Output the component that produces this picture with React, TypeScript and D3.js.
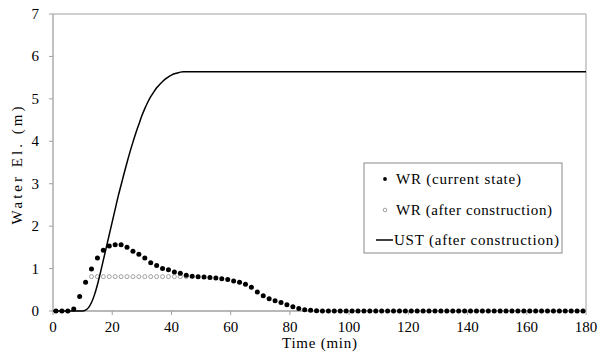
import React from "react";
import * as d3 from "d3";

const wrTimes = [1,3,5,7,9,11,13,15,17,19,21,23,25,27,29,31,33,35,37,39,41,43,45,47,49,51,53,55,57,59,61,63,65,67,69,71,73,75,77,79,81,83,85,87,89,91,93,95,97,99,101,103,105,107,109,111,113,115,117,119,121,123,125,127,129,131,133,135,137,139,141,143,145,147,149,151,153,155,157,159,161,163,165,167,169,171,173,175,177,179];
const wrCurrent = [0,0,0,0.05,0.34,0.68,0.99,1.25,1.43,1.53,1.56,1.56,1.50,1.41,1.34,1.25,1.14,1.07,1.00,0.97,0.92,0.89,0.84,0.82,0.81,0.80,0.79,0.78,0.76,0.74,0.71,0.68,0.63,0.56,0.45,0.36,0.29,0.24,0.20,0.15,0.10,0.06,0.03,0.015,0.005,0,0,0,0,0,0,0,0,0,0,0,0,0,0,0,0,0,0,0,0,0,0,0,0,0,0,0,0,0,0,0,0,0,0,0,0,0,0,0,0,0,0,0,0,0];
const wrAfterTimes = [13,15,17,19,21,23,25,27,29,31,33,35,37,39,41,43,45];
const wrAfter = [0.81,0.81,0.81,0.81,0.81,0.81,0.81,0.81,0.81,0.81,0.81,0.81,0.81,0.81,0.81,0.81,0.81];
const ustTimes = [0,10,11,12,13,14,15,16,17,18,19,20,21,22,23,24,25,26,27,28,29,30,31,32,33,34,35,36,37,38,39,40,41,42,43,44,45,180];
const ust = [0,0,0.02,0.08,0.2,0.38,0.62,0.9,1.2,1.5,1.8,2.1,2.4,2.7,2.97,3.24,3.5,3.75,3.98,4.2,4.4,4.6,4.77,4.92,5.05,5.16,5.26,5.34,5.41,5.47,5.52,5.56,5.59,5.61,5.63,5.64,5.64,5.64];
const xTicks = [0,20,40,60,80,100,120,140,160,180];
const yTicks = [0,1,2,3,4,5,6,7];
const legendLabels = ["WR (current state)", "WR (after construction)", "UST (after construction)"];

const W = 602, H = 353;
const L = 53, R = 586, T = 14, B = 311;
const AXC = "#a0a0a0";
const ts = { fontFamily: "Liberation Serif" };

export default function App() {
  const x = d3.scaleLinear().domain([0, 180]).range([L, R]);
  const y = d3.scaleLinear().domain([0, 7]).range([B, T]);
  const line = d3.line().x((_, i) => x(ustTimes[i])).y((d: any) => y(d)).curve(d3.curveMonotoneX);
  const lx = 364, ly = 163, lw = 198, lh = 90;
  const rowY = [179, 210, 240];
  return (
    <svg width={W} height={H} style={{ position: "absolute", left: 0, top: 0 }}>
      <rect x={0} y={0} width={W} height={H} fill="#fff" />
      <line x1={L} x2={R} y1={T} y2={T} stroke={AXC} strokeWidth={1} />
      <line x1={R} x2={R} y1={T} y2={B} stroke={AXC} strokeWidth={1} />
      <line x1={L} x2={L} y1={T} y2={B} stroke={AXC} strokeWidth={1.3} />
      <line x1={L} x2={R} y1={B} y2={B} stroke={AXC} strokeWidth={1.3} />
      {yTicks.map((t) => (
        <g key={"y" + t}>
          <line x1={L - 4} x2={L} y1={y(t)} y2={y(t)} stroke={AXC} />
          <text x={39} y={y(t) + 5} textAnchor="end" fontSize={15} fill="#000" style={ts}>{t}</text>
        </g>
      ))}
      {xTicks.map((t) => (
        <g key={"x" + t}>
          <line x1={x(t)} x2={x(t)} y1={B} y2={B + 4} stroke={AXC} />
          <text x={x(t)} y={332} textAnchor="middle" fontSize={15} fill="#000" style={ts}>{t}</text>
        </g>
      ))}
      <text x={(L + R) / 2} y={348} textAnchor="middle" fontSize={15} textLength={75} lengthAdjust="spacing" style={ts}>Time (min)</text>
      <text transform={`translate(22,${(T + B) / 2 + 3}) rotate(-90)`} textAnchor="middle" fontSize={15} textLength={118} lengthAdjust="spacing" style={ts}>Water El. (m)</text>
      {wrAfter.map((v, i) => (
        <circle key={"o" + i} cx={x(wrAfterTimes[i])} cy={y(v)} r={2} fill="#fff" stroke="#8a8a8a" strokeWidth={0.8} />
      ))}
      {wrCurrent.map((v, i) => (
        <circle key={"f" + i} cx={x(wrTimes[i])} cy={y(v)} r={2.5} fill="#000" />
      ))}
      <path d={(line as any)(ust) || ""} fill="none" stroke="#000" strokeWidth={1.5} />
      <rect x={lx} y={ly} width={lw} height={lh} fill="#fff" stroke="#8a8a8a" strokeWidth={1} />
      <circle cx={385} cy={rowY[0]} r={1.9} fill="#000" />
      <circle cx={385} cy={rowY[1]} r={1.8} fill="#fff" stroke="#8a8a8a" strokeWidth={0.8} />
      <line x1={376} x2={393} y1={rowY[2]} y2={rowY[2]} stroke="#000" strokeWidth={1.5} />
      <text x={396} y={rowY[0] + 5} fontSize={15} textLength={125} lengthAdjust="spacing" style={ts}>{legendLabels[0]}</text>
      <text x={396} y={rowY[1] + 5} fontSize={15} textLength={156} lengthAdjust="spacing" style={ts}>{legendLabels[1]}</text>
      <text x={394} y={rowY[2] + 5} fontSize={15} textLength={165} lengthAdjust="spacing" style={ts}>{legendLabels[2]}</text>
    </svg>
  );
}
